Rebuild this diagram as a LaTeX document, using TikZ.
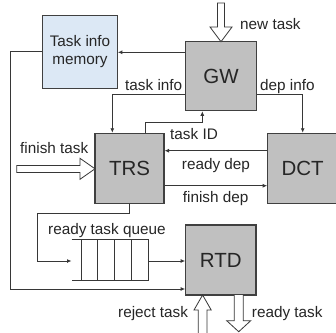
\documentclass[tikz,border=0pt]{standalone}
\usepackage{fontspec}
\setmainfont{Liberation Sans}
\usetikzlibrary{arrows.meta}
\definecolor{boxfill}{RGB}{192,192,192}
\definecolor{memfill}{RGB}{220,232,245}
\definecolor{linec}{RGB}{55,55,55}
\definecolor{edgec}{RGB}{64,64,64}
\tikzset{
  blockbox/.style={draw=edgec, line width=1.1pt, fill=boxfill, inner sep=0pt,
    font=\fontsize{20.5}{22}\selectfont, text=black!85},
  membox/.style={draw=edgec, line width=1.1pt, fill=memfill, inner sep=0pt, align=center,
    font=\fontsize{15.3}{18}\selectfont, text=black!85},
  conn/.style={draw=linec, line width=0.9pt, -{Latex[length=4.5pt,width=4pt]}},
  lbl/.style={anchor=base west, inner sep=0pt, font=\fontsize{15.3}{17}\selectfont, text=black!85},
  hollow/.style={draw=linec, line width=0.8pt, fill=white, line join=miter},
  qline/.style={draw=linec, line width=0.9pt}
}
\begin{document}
\begin{tikzpicture}[x=1pt,y=-1pt]
\useasboundingbox (0,0) rectangle (336,332);
\clip (0,0) rectangle (336,332);
\fill[white] (0,0) rectangle (336,332);

% blocks
\node[membox, minimum width=74.6pt, minimum height=73.3pt] (mem) at (80,51.7) {Task info\\memory};
\node[blockbox, minimum width=71pt, minimum height=69pt] (gw) at (221,76.2) {GW};
\node[blockbox, minimum width=69pt, minimum height=70pt] (trs) at (129.5,168.3) {TRS};
\node[blockbox, minimum width=70pt, minimum height=70pt] (dct) at (302.7,168.3) {DCT};
\node[blockbox, minimum width=70.3pt, minimum height=70pt] (rtd) at (220.85,260) {RTD};
\node[inner sep=0pt, minimum width=76.6pt, minimum height=41.4pt] (q) at (110,260) {};

% queue
\draw[qline] (q.north west) -- (q.north east) -- (q.south east) -- (q.south west);
\foreach \xx in {81.7,97.7,114.3,131} \draw[qline] (\xx,239.3) -- (\xx,280.7);

% helper coordinates
\coordinate (a1) at (150,52.3);
\coordinate (b1) at (112.3,94.3);
\coordinate (b2) at (302.7,94.3);
\coordinate (b3) at (145.7,122);
\coordinate (b4) at (202.3,122);
\coordinate (b5) at (220,150.7);
\coordinate (b6) at (220,185.7);
\coordinate (b7) at (10,51.7);
\coordinate (b8) at (10,289);
\coordinate (b9) at (129.3,213.5);
\coordinate (b10) at (37.5,213.5);
\coordinate (b11) at (37.5,261);

% connectors
\draw[conn] (gw.west |- a1) -- (mem.east |- a1);
\draw[conn] (gw.west |- b1) -- (b1) -- (b1 |- trs.north);
\draw[conn] (gw.east |- b2) -- (b2) -- (dct.north);
\draw[conn] (b3 |- trs.north) -- (b3) -- (b4) -- (b4 |- gw.south);
\draw[conn] (dct.west |- b5) -- (trs.east |- b5);
\draw[conn] (trs.east |- b6) -- (dct.west |- b6);
\draw[conn] (mem.west |- b7) -- (b7) -- (b8) -- (rtd.west |- b8);
\draw[conn] (b9 |- trs.south) -- (b9) -- (b10) -- (b11) -- (q.west |- b11);
\draw[conn] (q.east |- b11) -- (rtd.west |- b11);

% hollow arrows
\draw[hollow] (217.5,3) -- (224.5,3) -- (224.5,27) -- (232,27) -- (221,41.7) -- (210,27) -- (217.5,27) -- cycle;
\draw[hollow] (16.7,165.5) -- (80,165.5) -- (80,158.3) -- (95,168.8) -- (80,179.3) -- (80,172.5) -- (16.7,172.5) -- cycle;
\draw[hollow] (198.3,340) -- (198.3,310) -- (194,310) -- (202.6,295) -- (211.2,310) -- (206.9,310) -- (206.9,340);
\draw[hollow] (234.2,295) -- (234.2,320.7) -- (226.7,320.7) -- (238.7,331.7) -- (250.7,320.7) -- (243.2,320.7) -- (243.2,295);

% labels
\node[lbl] (l1) at (240,29) {new task};
\node[lbl] (l2) at (125,90) {task info};
\node[lbl] (l3) at (260,90) {dep info};
\node[lbl] (l4) at (170,139) {task ID};
\node[lbl] (l5) at (20,153.5) {finish task};
\node[lbl] (l6) at (181.7,169.3) {ready dep};
\node[lbl] (l7) at (182.7,202.7) {finish dep};
\node[lbl] (l8) at (48,234.3) {ready task queue};
\node[lbl] (l9) at (118,317.7) {reject task};
\node[lbl] (l10) at (251.7,317.7) {ready task};
\end{tikzpicture}
\end{document}
